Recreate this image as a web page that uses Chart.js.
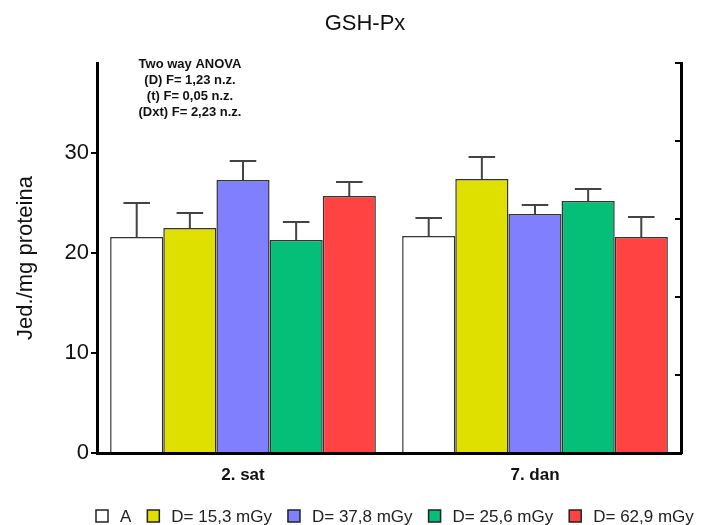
<!DOCTYPE html>
<html>
<head>
<meta charset="utf-8">
<script src="https://cdn.jsdelivr.net/npm/chart.js@4.4.1/dist/chart.umd.min.js"></script>
<style>
  html, body { margin:0; padding:0; background:#fff; }
  #wrap { width:701px; height:525px; }
</style>
</head>
<body>
<div id="wrap"><canvas id="c" width="701" height="525"></canvas></div>
<script>
// ----- Datos -----
const categories = ['2. sat', '7. dan'];
const seriesLabels = ['A', 'D= 15,3 mGy', 'D= 37,8 mGy', 'D= 25,6 mGy', 'D= 62,9 mGy'];
const valA   = [21.6, 21.7];
const valD15 = [22.5, 27.4];
const valD37 = [27.3, 23.9];
const valD25 = [21.3, 25.2];
const valD62 = [25.7, 21.6];
const errA   = [3.4, 1.8];
const errD15 = [1.5, 2.2];
const errD37 = [1.9, 0.9];
const errD25 = [1.8, 1.2];
const errD62 = [1.4, 2.0];
const yTicks = [0, 10, 20, 30];
const anovaLines = ['Two way ANOVA', '(D) F= 1,23 n.z.', '(t) F= 0,05 n.z.', '(Dxt) F= 2,23 n.z.'];

const colors = ['#ffffff', '#dfdf00', '#8080ff', '#05bf78', '#ff4242'];
const values = [valA, valD15, valD37, valD25, valD62];
const errors = [errA, errD15, errD37, errD25, errD62];
const FONT = "'Liberation Sans', Arial, sans-serif";

// ----- Barras de error (solo hacia arriba) -----
const errorBars = {
  id: 'errorBars',
  afterDatasetsDraw(chart){
    const ctx = chart.ctx;
    const y = chart.scales.y;
    ctx.save();
    ctx.strokeStyle = '#444';
    ctx.lineWidth = 2;
    chart.data.datasets.forEach((ds, i)=>{
      const meta = chart.getDatasetMeta(i);
      meta.data.forEach((bar, j)=>{
        const top = y.getPixelForValue(ds.data[j] + ds.err[j]);
        const half = bar.width / 4;
        ctx.beginPath();
        ctx.moveTo(bar.x, bar.y);
        ctx.lineTo(bar.x, top);
        ctx.moveTo(bar.x - half, top);
        ctx.lineTo(bar.x + half, top);
        ctx.stroke();
      });
    });
    ctx.restore();
  }
};

// ----- Título, texto ANOVA y leyenda -----
const extras = {
  id: 'extras',
  afterDraw(chart){
    const ctx = chart.ctx;
    ctx.save();
    ctx.fillStyle = '#111';
    ctx.textAlign = 'center';
    ctx.textBaseline = 'middle';
    ctx.font = '22px ' + FONT;
    ctx.fillText('GSH-Px', 365, 24);

    ctx.font = 'bold 13px ' + FONT;
    anovaLines.forEach((t, k)=> ctx.fillText(t, 190, 64 + k*16));

    // leyenda
    ctx.font = '17px ' + FONT;
    ctx.textAlign = 'left';
    let x = 96;
    chart.data.datasets.forEach((ds)=>{
      ctx.fillStyle = ds.backgroundColor;
      ctx.fillRect(x, 510, 12, 12);
      ctx.strokeStyle = '#222';
      ctx.lineWidth = 1.5;
      ctx.strokeRect(x, 510, 12, 12);
      ctx.fillStyle = '#222';
      ctx.fillText(ds.label, x + 24, 517);
      x += 24 + ctx.measureText(ds.label).width + 16;
    });
    ctx.restore();
  }
};

new Chart(document.getElementById('c'), {
  type: 'bar',
  data: {
    labels: categories,
    datasets: seriesLabels.map((lab, i)=>({
      label: lab,
      data: values[i],
      err: errors[i],
      backgroundColor: colors[i],
      borderColor: '#333',
      borderWidth: 1.5,
      borderSkipped: 'bottom',
      categoryPercentage: 0.91,
      barPercentage: 1.0
    }))
  },
  options: {
    responsive: false,
    animation: false,
    devicePixelRatio: 1,
    layout: { padding: { top: 63, left: 0, right: 0, bottom: 0 } },
    plugins: { legend: { display: false }, title: { display: false }, tooltip: { enabled: false } },
    scales: {
      x: {
        grid: { display: true, drawOnChartArea: false, drawTicks: false },
        border: { display: true, color: '#000', width: 3 },
        ticks: { color: '#111', font: { family: FONT, size: 17, weight: 'bold' }, padding: 12 },
        afterFit: s => { s.height = 72; }
      },
      y: {
        min: 0, max: 39,
        afterBuildTicks: s => { s.ticks = yTicks.map(v => ({ value: v })); },
        ticks: { color: '#111', font: { family: FONT, size: 22 }, padding: 2 },
        grid: { drawOnChartArea: false, drawTicks: true, tickLength: 6, color: '#000', lineWidth: 2 },
        border: { display: true, color: '#000', width: 3 },
        title: { display: true, text: 'Jed./mg proteina', color: '#111',
                 font: { family: FONT, size: 22 }, padding: { top: 13, bottom: 0 } },
        afterFit: s => { s.width = 97; }
      },
      y2: {
        position: 'right',
        min: 0, max: 5,
        ticks: { display: false, stepSize: 1 },
        grid: { drawOnChartArea: false, drawTicks: true, tickLength: -6, color: '#000', lineWidth: 2 },
        border: { display: true, color: '#000', width: 3 },
        afterFit: s => { s.width = 20; }
      }
    }
  },
  plugins: [errorBars, extras]
});
</script>
</body>
</html>
